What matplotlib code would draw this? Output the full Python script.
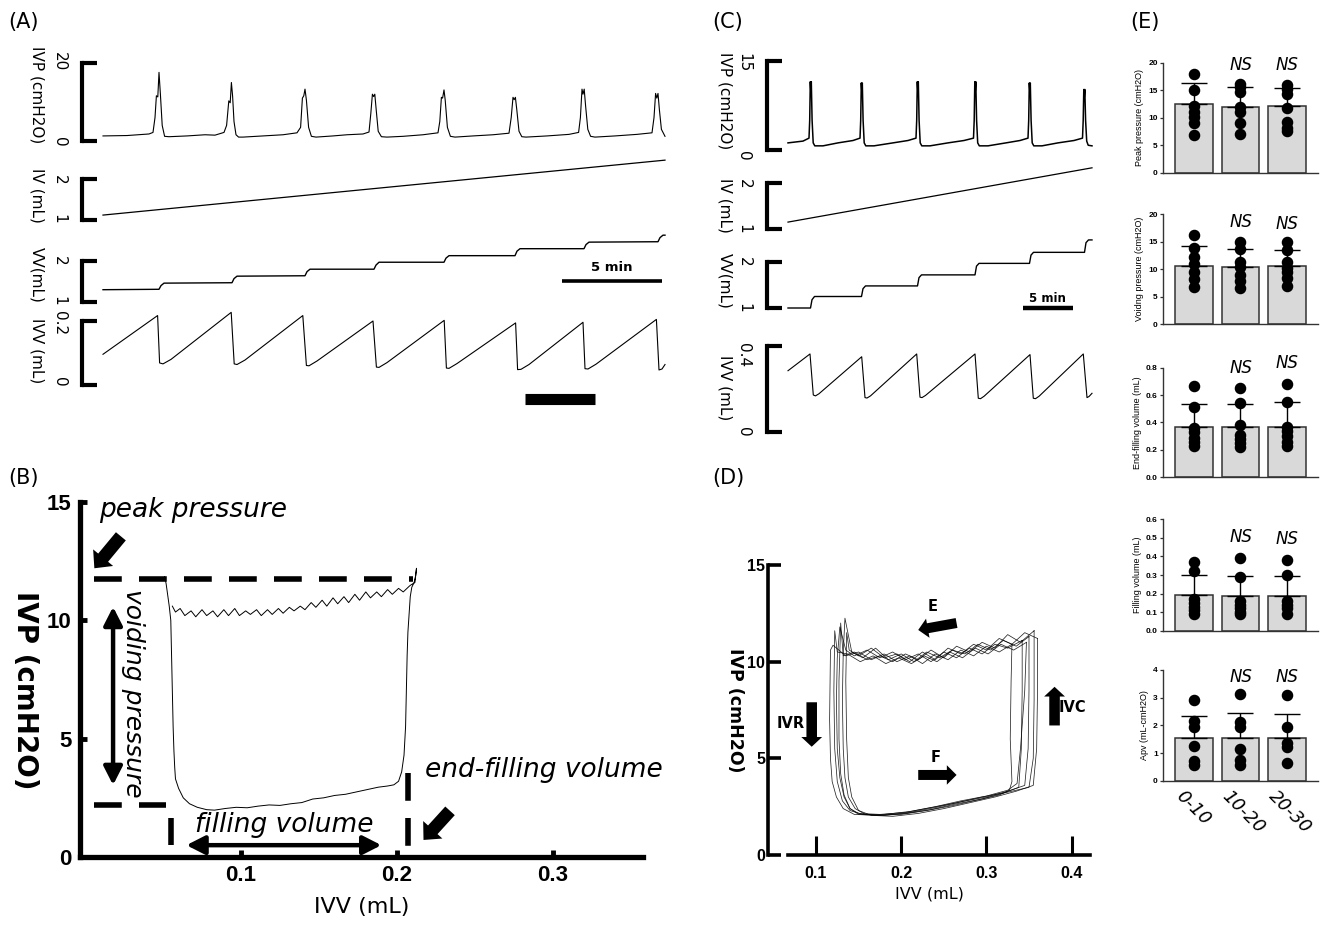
import matplotlib
matplotlib.use('Agg')
import matplotlib.pyplot as plt

plt.rcParams['font.family'] = ['DejaVu Sans']

W, H = 1320, 925
fig = plt.figure(figsize=(W / 100, H / 100), dpi=100)


def box(x0, y0, x1, y1):
    return [x0 / W, 1 - y1 / H, (x1 - x0) / W, (y1 - y0) / H]


def ftext(x, y, s, **kw):
    fig.text(x / W, 1 - y / H, s, **kw)


NARROW = ['Liberation Sans Narrow', 'Liberation Sans', 'DejaVu Sans']
ARIAL = ['Liberation Sans', 'DejaVu Sans']

# ---------------------------------------------------------------- data (A)
A_IVP_T = [0.00, 1.20, 2.30, 2.50, 2.60, 2.67, 2.74, 2.80, 2.87, 2.96, 3.08, 3.30,
           4.20, 5.10, 5.60, 6.05, 6.18, 6.29, 6.36, 6.42, 6.48, 6.55, 6.65, 6.78,
           7.00, 8.00, 9.00, 9.70, 9.88, 9.97, 10.04, 10.10, 10.17, 10.28, 10.42, 10.65,
           11.50, 12.20, 13.00, 13.30, 13.39, 13.47, 13.53, 13.59, 13.66, 13.76, 13.92, 14.20,
           15.00, 16.00, 16.75, 16.84, 16.92, 16.98, 17.05, 17.11, 17.22, 17.37, 17.60,
           18.50, 19.50, 20.30, 20.41, 20.50, 20.56, 20.62, 20.69, 20.80, 20.94, 21.15,
           22.20, 23.30, 23.78, 23.87, 23.95, 24.00, 24.06, 24.13, 24.24, 24.38, 24.60,
           25.60, 26.70, 27.45, 27.55, 27.63, 27.69, 27.75, 27.82, 27.92, 28.10]
A_IVP_V = [1.3, 1.4, 1.8, 2.2, 6.0, 11.6, 11.3, 17.6, 12.0, 4.0, 1.2, 1.1,
           1.3, 1.6, 1.5, 2.2, 4.0, 10.3, 9.8, 15.0, 11.5, 5.0, 1.6, 1.0,
           1.0, 1.3, 1.6, 2.1, 3.5, 11.0, 11.6, 13.3, 10.5, 3.5, 1.2, 1.0,
           1.3, 1.6, 1.8, 2.3, 7.0, 12.0, 11.4, 12.0, 8.0, 2.5, 1.1, 1.0,
           1.2, 1.6, 2.1, 5.0, 11.2, 11.0, 13.1, 10.5, 3.5, 1.2, 1.0,
           1.3, 1.6, 2.0, 6.0, 11.2, 10.6, 11.2, 8.0, 2.5, 1.1, 1.0,
           1.3, 1.7, 2.2, 6.0, 13.3, 12.0, 13.3, 9.0, 3.0, 1.2, 1.0,
           1.3, 1.7, 2.1, 6.0, 12.2, 11.0, 12.2, 8.0, 3.0, 1.2]
A_IV_T = [0.0, 28.1]
A_IV_V = [1.12, 2.46]
A_VV_T = [0.0, 2.80, 2.90, 3.05, 6.45, 6.55, 6.70, 10.10, 10.20, 10.35, 13.55, 13.65, 13.80,
          17.05, 17.15, 17.30, 20.60, 20.70, 20.85, 24.05, 24.15, 24.30, 27.75, 27.85, 28.00, 28.10]
A_VV_V = [1.30, 1.31, 1.40, 1.46, 1.47, 1.57, 1.63, 1.64, 1.74, 1.80, 1.80, 1.90, 1.97,
          1.97, 2.07, 2.13, 2.13, 2.24, 2.30, 2.30, 2.40, 2.46, 2.47, 2.57, 2.63, 2.63]
A_IVV_T = [0.0, 2.73, 2.83, 3.0, 3.4, 6.41, 6.56, 6.7, 7.1, 9.99, 10.17, 10.3, 10.7,
           13.5, 13.67, 13.8, 14.2, 17.06, 17.17, 17.3, 17.7, 20.63, 20.73, 20.9, 21.3,
           24.0, 24.1, 24.25, 24.65, 27.67, 27.8, 27.95, 28.1]
A_IVV_V = [0.096, 0.217, 0.069, 0.066, 0.080, 0.227, 0.066, 0.064, 0.078, 0.217, 0.061, 0.060, 0.075,
           0.200, 0.056, 0.055, 0.070, 0.202, 0.053, 0.052, 0.067, 0.194, 0.048, 0.049, 0.064,
           0.196, 0.051, 0.050, 0.065, 0.205, 0.047, 0.050, 0.064]

# ---------------------------------------------------------------- data (C)
C_IVP_T = [0.0, 1.5, 2.10, 2.17, 2.23, 2.28, 2.33, 2.41, 2.52, 2.68,
           3.5, 5.0, 6.5, 7.20, 7.27, 7.33, 7.38, 7.43, 7.51, 7.62, 7.78,
           8.6, 10.5, 12.0, 12.80, 12.87, 12.93, 12.98, 13.03, 13.11, 13.22, 13.38,
           14.2, 16.0, 17.6, 18.55, 18.62, 18.68, 18.73, 18.78, 18.86, 18.97, 19.13,
           20.0, 21.8, 23.2, 24.00, 24.07, 24.13, 24.18, 24.23, 24.31, 24.42, 24.58,
           25.4, 27.0, 28.6, 29.45, 29.52, 29.58, 29.63, 29.68, 29.76, 29.87, 30.02, 30.4]
C_IVP_V = [1.2, 1.5, 2.0, 5.0, 11.5, 10.0, 11.5, 5.0, 1.2, 0.7,
           0.7, 1.2, 1.6, 2.0, 5.0, 11.3, 10.0, 11.3, 5.0, 1.2, 0.7,
           0.7, 1.2, 1.6, 2.0, 5.0, 11.5, 10.0, 11.5, 5.0, 1.2, 0.7,
           0.7, 1.2, 1.6, 2.0, 5.0, 11.5, 10.0, 11.5, 5.0, 1.2, 0.7,
           0.7, 1.2, 1.6, 2.0, 5.0, 11.3, 10.0, 11.3, 5.0, 1.2, 0.7,
           0.7, 1.2, 1.6, 2.0, 5.0, 10.2, 9.0, 10.2, 5.0, 1.5, 0.8, 0.7]
C_IV_T = [0.0, 30.4]
C_IV_V = [1.15, 2.33]
C_VV_T = [0.0, 2.25, 2.40, 2.65, 7.35, 7.50, 7.75, 12.95, 13.10, 13.35, 18.70, 18.85, 19.10,
          24.15, 24.30, 24.55, 29.65, 29.80, 30.05, 30.4]
C_VV_V = [1.00, 1.00, 1.18, 1.25, 1.25, 1.42, 1.48, 1.48, 1.66, 1.72, 1.72, 1.91, 1.97,
          1.97, 2.15, 2.21, 2.21, 2.42, 2.48, 2.48]
C_IVV_T = [0.0, 2.2, 2.53, 2.75, 3.1, 7.37, 7.7, 7.9, 8.25, 12.87, 13.2, 13.4, 13.75,
           18.7, 19.03, 19.25, 19.6, 24.2, 24.53, 24.75, 25.1, 29.53, 29.9, 30.1, 30.4]
C_IVV_V = [0.285, 0.363, 0.172, 0.168, 0.178, 0.350, 0.160, 0.158, 0.168, 0.363, 0.162, 0.160, 0.170,
           0.363, 0.157, 0.155, 0.166, 0.360, 0.157, 0.155, 0.166, 0.363, 0.160, 0.165, 0.180]

# ---------------------------------------------------------------- data (B)
B_LOOP_X = [0.051, 0.052, 0.054, 0.055, 0.0555, 0.056, 0.0565, 0.057, 0.0575, 0.058, 0.060, 0.063,
            0.067, 0.072, 0.078, 0.083,
            0.090, 0.097, 0.104, 0.111, 0.118, 0.125, 0.132, 0.139, 0.146, 0.153, 0.160, 0.167,
            0.174, 0.181, 0.188, 0.194, 0.198,
            0.201, 0.203, 0.2045, 0.2055, 0.206, 0.2065, 0.207, 0.2075, 0.208, 0.2085, 0.2095,
            0.211, 0.212, 0.2125, 0.2115, 0.209,
            0.208, 0.204, 0.201, 0.197, 0.194, 0.190, 0.187, 0.183, 0.180, 0.176, 0.173, 0.169,
            0.166, 0.162, 0.159, 0.155, 0.152, 0.148, 0.145, 0.141, 0.138, 0.134, 0.131, 0.127,
            0.124, 0.120, 0.117, 0.113, 0.110, 0.106, 0.103, 0.099, 0.096, 0.092, 0.089, 0.085,
            0.082, 0.078, 0.075, 0.071, 0.068, 0.064, 0.061, 0.058, 0.056]
B_LOOP_Y = [11.85, 11.55, 10.6, 10.0, 8.5, 7.0, 5.5, 4.5, 3.8, 3.3, 2.9, 2.5,
            2.25, 2.1, 2.0, 1.98,
            2.05, 2.1, 2.08, 2.15, 2.2, 2.18, 2.25, 2.3, 2.45, 2.5, 2.6, 2.65,
            2.75, 2.85, 2.95, 3.0, 3.05,
            3.2, 3.6, 4.3, 5.5, 7.0, 8.5, 9.5, 10.0, 10.5, 11.0, 11.4,
            11.6, 11.9, 12.2, 11.6, 11.5,
            11.45, 11.2, 11.35, 11.1, 11.3, 11.0, 11.2, 10.95, 11.2, 10.85, 11.1, 10.75,
            11.0, 10.7, 10.95, 10.6, 10.85, 10.55, 10.75, 10.45, 10.6, 10.4, 10.55, 10.3,
            10.5, 10.25, 10.45, 10.2, 10.45, 10.25, 10.4, 10.2, 10.5, 10.2, 10.45, 10.15,
            10.4, 10.2, 10.45, 10.15, 10.4, 10.2, 10.5, 10.35, 10.6]
B_XTICKS = [0.1, 0.2, 0.3]
B_YTICKS = [0, 5, 10, 15]
B_PEAK = 11.74
B_VOID = 2.2
B_START_VOL = 0.055
B_END_VOL = 0.207

# ---------------------------------------------------------------- data (D)
D_LOOPS_X = [
    [0.330, 0.315, 0.300, 0.285, 0.270, 0.255, 0.240, 0.225, 0.210, 0.195, 0.180, 0.165, 0.150, 0.135,
     0.120, 0.117, 0.116, 0.117, 0.119, 0.124, 0.132, 0.145, 0.170, 0.200, 0.230, 0.260, 0.290, 0.315,
     0.327, 0.330, 0.328, 0.329, 0.330],
    [0.342, 0.325, 0.310, 0.295, 0.280, 0.265, 0.250, 0.235, 0.220, 0.205, 0.190, 0.175, 0.160, 0.145,
     0.135, 0.128, 0.125, 0.124, 0.125, 0.128, 0.133, 0.140, 0.150, 0.175, 0.205, 0.235, 0.265, 0.295,
     0.320, 0.338, 0.341, 0.342, 0.342],
    [0.350, 0.335, 0.320, 0.305, 0.290, 0.275, 0.260, 0.245, 0.230, 0.215, 0.200, 0.185, 0.170, 0.155,
     0.142, 0.134, 0.132, 0.131, 0.132, 0.134, 0.138, 0.146, 0.158, 0.180, 0.210, 0.240, 0.270, 0.300,
     0.325, 0.345, 0.349, 0.350, 0.350],
    [0.356, 0.340, 0.325, 0.310, 0.295, 0.280, 0.265, 0.250, 0.235, 0.220, 0.205, 0.190, 0.175, 0.160,
     0.145, 0.132, 0.129, 0.127, 0.127, 0.129, 0.133, 0.140, 0.150, 0.175, 0.205, 0.235, 0.265, 0.295,
     0.325, 0.350, 0.355, 0.356, 0.356],
    [0.360, 0.345, 0.330, 0.315, 0.300, 0.285, 0.270, 0.255, 0.240, 0.225, 0.210, 0.195, 0.180, 0.165,
     0.150, 0.139, 0.136, 0.135, 0.136, 0.138, 0.142, 0.150, 0.165, 0.190, 0.220, 0.250, 0.280, 0.310,
     0.335, 0.355, 0.359, 0.360, 0.360],
    [0.347, 0.332, 0.317, 0.302, 0.287, 0.272, 0.257, 0.242, 0.227, 0.212, 0.197, 0.182, 0.167, 0.152,
     0.137, 0.125, 0.122, 0.121, 0.122, 0.125, 0.131, 0.140, 0.155, 0.180, 0.210, 0.240, 0.270, 0.300,
     0.325, 0.336, 0.340, 0.345, 0.347],
]
D_LOOPS_Y = [
    [10.9, 10.5, 10.8, 10.3, 10.6, 10.1, 10.4, 9.9, 10.3, 10.0, 10.4, 10.1, 10.5, 10.3,
     10.85, 10.6, 7.0, 5.0, 3.8, 3.0, 2.4, 2.1, 2.05, 2.1, 2.3, 2.55, 2.85, 3.1,
     3.35, 3.8, 6.0, 9.0, 10.9],
    [11.1, 10.7, 10.9, 10.4, 10.7, 10.2, 10.5, 10.0, 10.4, 10.1, 10.5, 10.2, 10.6, 10.3,
     10.6, 11.8, 10.2, 8.0, 5.5, 4.0, 3.0, 2.4, 2.1, 2.05, 2.15, 2.35, 2.65, 2.9,
     3.2, 3.5, 5.5, 8.5, 11.1],
    [11.3, 10.8, 11.1, 10.6, 10.9, 10.4, 10.6, 10.2, 10.5, 10.0, 10.4, 10.1, 10.7, 10.2,
     10.5, 12.25, 10.5, 8.0, 5.5, 4.0, 3.0, 2.4, 2.1, 2.05, 2.2, 2.45, 2.75, 3.0,
     3.3, 3.6, 5.5, 8.5, 11.3],
    [11.6, 11.0, 11.4, 10.7, 11.0, 10.5, 10.8, 10.2, 10.6, 10.1, 10.4, 10.0, 10.3, 10.1,
     10.5, 10.3, 12.0, 9.0, 6.0, 4.2, 3.1, 2.4, 2.15, 2.1, 2.2, 2.45, 2.7, 3.0,
     3.25, 3.5, 5.0, 8.0, 11.6],
    [11.2, 11.5, 10.9, 11.2, 10.6, 10.9, 10.4, 10.7, 10.1, 10.5, 10.0, 10.4, 10.2, 10.7,
     10.3, 10.6, 11.5, 9.0, 6.0, 4.0, 3.0, 2.3, 2.05, 2.0, 2.15, 2.4, 2.7, 3.0,
     3.3, 3.6, 5.5, 8.5, 11.2],
    [11.0, 10.6, 10.9, 10.4, 10.7, 10.2, 10.5, 10.0, 10.3, 9.9, 10.2, 9.9, 10.3, 10.0,
     10.4, 10.5, 11.6, 8.5, 5.5, 3.8, 2.8, 2.3, 2.1, 2.1, 2.25, 2.5, 2.8, 3.05,
     3.35, 3.7, 5.5, 8.5, 11.0],
]
D_XTICKS = [0.1, 0.2, 0.3, 0.4]
D_YTICKS = [0, 5, 10, 15]

# ---------------------------------------------------------------- data (E)
E_GROUPS = ['0-10', '10-20', '20-30']
PEAK_MEAN = [12.42, 12.0, 12.18]
PEAK_SD = [3.88, 3.5, 3.15]
PEAK_PTS = [[18.0, 15.1, 12.2, 11.1, 10.2, 9.0, 6.8],
            [16.2, 15.5, 14.7, 12.0, 11.1, 9.1, 7.1],
            [15.9, 15.3, 14.4, 11.7, 9.3, 8.1, 7.5]]
VOID_MEAN = [10.67, 10.48, 10.67]
VOID_SD = [3.57, 3.16, 2.83]
VOID_PTS = [[16.2, 13.8, 12.3, 10.9, 9.5, 8.3, 6.7],
            [14.9, 13.7, 11.4, 10.4, 9.0, 7.9, 6.6],
            [14.9, 13.5, 11.4, 10.2, 9.6, 8.4, 7.0]]
EFV_MEAN = [0.37, 0.37, 0.37]
EFV_SD = [0.165, 0.168, 0.18]
EFV_PTS = [[0.67, 0.51, 0.36, 0.33, 0.29, 0.26, 0.23],
           [0.65, 0.54, 0.38, 0.31, 0.28, 0.25, 0.22],
           [0.68, 0.55, 0.37, 0.34, 0.30, 0.26, 0.23]]
FV_MEAN = [0.192, 0.187, 0.187]
FV_SD = [0.108, 0.109, 0.108]
FV_PTS = [[0.37, 0.32, 0.17, 0.15, 0.13, 0.11, 0.09],
          [0.39, 0.29, 0.16, 0.14, 0.12, 0.10, 0.09],
          [0.38, 0.30, 0.16, 0.14, 0.12, 0.09]]
APV_MEAN = [1.53, 1.53, 1.55]
APV_SD = [0.82, 0.90, 0.85]
APV_PTS = [[2.92, 2.15, 1.95, 1.25, 0.70, 0.55],
           [3.12, 2.13, 1.95, 1.13, 0.75, 0.57],
           [3.10, 1.93, 1.35, 1.23, 0.65]]

# ================================================================ helpers


def trace_axes(x0, x1, y0, y1, xlim, ylim):
    ax = fig.add_axes(box(x0, y0, x1, y1))
    ax.set_xlim(*xlim)
    ax.set_ylim(*ylim)
    ax.patch.set_visible(False)
    for s in ('top', 'right', 'bottom'):
        ax.spines[s].set_visible(False)
    ax.spines['left'].set_linewidth(3)
    ax.set_xticks([])
    ax.set_yticks(list(ylim))
    ax.tick_params(axis='y', direction='in', length=11, width=3, labelleft=False)
    return ax


def block_arrow(ax, tail, head, ms=20, hl=0.42, hw=0.75, tw=0.38):
    ax.annotate('', xy=head, xytext=tail, xycoords='data', textcoords='data',
                annotation_clip=False,
                arrowprops=dict(arrowstyle='simple,head_length=%g,head_width=%g,tail_width=%g' % (hl, hw, tw),
                                fc='k', ec='k', lw=0, mutation_scale=ms, shrinkA=0, shrinkB=0))


def double_arrow(ax, p0, p1):
    ax.annotate('', xy=p1, xytext=p0, xycoords='data', textcoords='data',
                annotation_clip=False,
                arrowprops=dict(arrowstyle='<|-|>,head_length=0.55,head_width=0.28',
                                fc='k', ec='k', lw=3.2, mutation_scale=20, shrinkA=0, shrinkB=0))


# ================================================================ panel A
A_XLIM = (-1.05, 28.1)
a_ivp = trace_axes(82, 665, 63, 141, A_XLIM, (0, 20))
a_iv = trace_axes(82, 665, 179, 220, A_XLIM, (1, 2))
a_vv = trace_axes(82, 665, 261, 302, A_XLIM, (1, 2))
a_ivv = trace_axes(82, 665, 321, 385, A_XLIM, (0, 0.2))
a_ivp.plot(A_IVP_T, A_IVP_V, color='k', lw=0.8, clip_on=False)
a_iv.plot(A_IV_T, A_IV_V, color='k', lw=0.9, clip_on=False)
a_vv.plot(A_VV_T, A_VV_V, color='k', lw=1.0, clip_on=False)
a_ivv.plot(A_IVV_T, A_IVV_V, color='k', lw=0.8, clip_on=False)
a_vv.plot([22.95, 27.95], [1.51, 1.51], color='k', lw=2.6, solid_capstyle='butt', clip_on=False)
a_ivv.plot([21.1, 24.6], [-0.0425, -0.0425], color='k', lw=8, solid_capstyle='butt', clip_on=False)
ftext(612, 268, '5 min', fontsize=9.5, fontweight='bold', ha='center', va='center')

for lab, yc in [('IVP (cmH2O)', 95), ('IV (mL)', 195), ('VV(mL)', 275), ('IVV (mL)', 351)]:
    ftext(37, yc, lab, rotation=-90, ha='center', va='center', fontsize=11)
for lab, yc in [('20', 62), ('0', 142), ('2', 180), ('1', 219), ('2', 261), ('1', 301),
                ('0.2', 323), ('0', 382)]:
    ftext(59, yc, lab, rotation=-90, ha='center', va='center', fontsize=11)

# ================================================================ panel C
C_XLIM = (-2.1, 30.4)
c_ivp = trace_axes(767, 1092, 61, 150, C_XLIM, (0, 15))
c_iv = trace_axes(767, 1092, 183, 229, C_XLIM, (1, 2))
c_vv = trace_axes(767, 1092, 262, 308, C_XLIM, (1, 2))
c_ivv = trace_axes(767, 1092, 346, 432, C_XLIM, (0, 0.4))
c_ivp.plot(C_IVP_T, C_IVP_V, color='k', lw=1.1, clip_on=False)
c_iv.plot(C_IV_T, C_IV_V, color='k', lw=0.9, clip_on=False)
c_vv.plot(C_VV_T, C_VV_V, color='k', lw=1.0, clip_on=False)
c_ivv.plot(C_IVV_T, C_IVV_V, color='k', lw=0.8, clip_on=False)
c_vv.plot([23.47, 28.47], [1.0, 1.0], color='k', lw=3.2, solid_capstyle='butt', clip_on=False)
ftext(1047, 298, '5 min', fontsize=8.5, fontweight='bold', ha='center', va='center')

for lab, yc in [('IVP (cmH2O)', 101), ('IV (mL)', 205), ('VV(mL)', 281), ('IVV (mL)', 388)]:
    ftext(725, yc, lab, rotation=-90, ha='center', va='center', fontsize=11)
for lab, yc in [('15', 63), ('0', 156), ('2', 184), ('1', 229), ('2', 262), ('1', 308),
                ('0.4', 355), ('0', 432)]:
    ftext(744, yc, lab, rotation=-90, ha='center', va='center', fontsize=11)

# ================================================================ panel B
axB = fig.add_axes(box(80, 502, 643, 857))
axB.set_xlim(-0.0032, 0.3577)
axB.set_ylim(0, 15)
axB.patch.set_visible(False)
for s in ('top', 'right'):
    axB.spines[s].set_visible(False)
for s in ('left', 'bottom'):
    axB.spines[s].set_linewidth(3.8)
axB.set_xticks(B_XTICKS)
axB.set_yticks(B_YTICKS)
axB.set_xticklabels(['%g' % v for v in B_XTICKS], fontsize=16, fontweight='bold', family=NARROW)
axB.set_yticklabels(['%g' % v for v in B_YTICKS], fontsize=16, fontweight='bold', family=NARROW)
axB.tick_params(direction='in', length=5, width=3.5)
axB.tick_params(axis='y', pad=6)
axB.tick_params(axis='x', pad=6)
axB.set_xlabel('IVV (mL)', fontsize=16, labelpad=8)
axB.set_ylabel('IVP (cmH2O)', fontsize=20, fontweight='bold', rotation=270, labelpad=22, va='center')
axB.yaxis.set_label_coords(-0.098, 0.47)

axB.plot(B_LOOP_X, B_LOOP_Y, color='k', lw=0.7)
dash_kw = dict(color='k', lw=4, dashes=(5, 3.1), dash_capstyle='butt', clip_on=False)
axB.plot([0.006, 0.21], [B_PEAK, B_PEAK], **dash_kw)
axB.plot([0.006, 0.052], [B_VOID, B_VOID], **dash_kw)
axB.plot([B_START_VOL, B_START_VOL], [1.65, 0.5], **dash_kw)
axB.plot([B_END_VOL, B_END_VOL], [3.55, 0.38], **dash_kw)
double_arrow(axB, (0.018, 10.57), (0.018, 3.04))
double_arrow(axB, (0.065, 0.5), (0.19, 0.5))
block_arrow(axB, (0.023, 13.55), (0.006, 12.2), ms=22, hl=0.45, hw=0.85, tw=0.42)
block_arrow(axB, (0.234, 1.95), (0.217, 0.72), ms=22, hl=0.45, hw=0.85, tw=0.42)
it_kw = dict(fontsize=19, style='italic', color='k')
axB.text(0.009, 14.66, 'peak pressure', ha='left', va='center', **it_kw)
axB.text(0.0305, 6.9, 'voiding pressure', ha='center', va='center', rotation=270, fontsize=18,
         style='italic')
axB.text(0.128, 1.35, 'filling volume', ha='center', va='center', **it_kw)
axB.text(0.218, 3.68, 'end-filling volume', ha='left', va='center', clip_on=False, **it_kw)

# ================================================================ panel D
axD = fig.add_axes(box(768, 565, 1090, 855))
axD.set_xlim(0.0437, 0.4216)
axD.set_ylim(0, 15)
axD.patch.set_visible(False)
for s in ('top', 'right'):
    axD.spines[s].set_visible(False)
for s in ('left', 'bottom'):
    axD.spines[s].set_linewidth(2.6)
axD.spines['bottom'].set_bounds(0.0671, 0.4216)
axD.set_xticks(D_XTICKS)
axD.set_yticks(D_YTICKS)
axD.set_xticklabels(['%g' % v for v in D_XTICKS], fontsize=11.5, fontweight='bold', family=NARROW)
axD.set_yticklabels(['%g' % v for v in D_YTICKS], fontsize=11.5, fontweight='bold', family=NARROW)
axD.tick_params(axis='y', direction='in', length=9, width=2.6, pad=2)
axD.tick_params(axis='x', direction='in', length=14, width=2.2, pad=8)
axD.set_xlabel('IVV (mL)', fontsize=11.5, labelpad=4)
axD.set_ylabel('IVP (cmH2O)', fontsize=12.5, fontweight='bold', rotation=270, va='center')
axD.yaxis.set_label_coords(-0.102, 0.5)
for lx, ly in zip(D_LOOPS_X, D_LOOPS_Y):
    axD.plot(lx, ly, color='k', lw=0.55, alpha=0.85)
block_arrow(axD, (0.265, 12.0), (0.22, 11.64), ms=20, hl=0.35, hw=0.7, tw=0.36)
block_arrow(axD, (0.22, 4.14), (0.265, 4.14), ms=20, hl=0.35, hw=0.7, tw=0.36)
block_arrow(axD, (0.095, 7.9), (0.095, 5.6), ms=20, hl=0.35, hw=0.75, tw=0.38)
block_arrow(axD, (0.38, 6.7), (0.38, 8.7), ms=20, hl=0.35, hw=0.75, tw=0.38)
bk = dict(fontsize=10.5, fontweight='bold', ha='center', va='center')
axD.text(0.237, 12.85, 'E', **bk)
axD.text(0.240, 5.05, 'F', **bk)
axD.text(0.070, 6.8, 'IVR', **bk)
axD.text(0.401, 7.65, 'IVC', **bk)

# ================================================================ panel E
E_PANELS = [
    ('Peak pressure (cmH2O)', PEAK_MEAN, PEAK_SD, PEAK_PTS, (0, 20), [0, 5, 10, 15, 20], '%d', [19.5, 19.5]),
    ('Voidng pressure (cmH2O)', VOID_MEAN, VOID_SD, VOID_PTS, (0, 20), [0, 5, 10, 15, 20], '%d', [18.6, 18.2]),
    ('End-filling volume (mL)', EFV_MEAN, EFV_SD, EFV_PTS, (0, 0.8), [0, 0.2, 0.4, 0.6, 0.8], '%.1f', [0.795, 0.836]),
    ('Filling volume (mL)', FV_MEAN, FV_SD, FV_PTS, (0, 0.6), [0, 0.1, 0.2, 0.3, 0.4, 0.5, 0.6], '%.1f', [0.506, 0.493]),
    ('Apv (mL-cmH2O)', APV_MEAN, APV_SD, APV_PTS, (0, 4), [0, 1, 2, 3, 4], '%d', [3.76, 3.76]),
]
E_BOXES = [(62.7, 172.7), (214.3, 324.3), (367.7, 477.3), (519.3, 630.7), (670.0, 780.7)]
xpos = list(range(len(E_GROUPS)))
for (lab, means, sds, pts, ylim, yt, fmt, nsy), (yt0, yb0) in zip(E_PANELS, E_BOXES):
    ax = fig.add_axes(box(1163.3, yt0, 1318, yb0))
    ax.set_xlim(-0.653, 2.66)
    ax.set_ylim(*ylim)
    ax.patch.set_visible(False)
    for s in ('top', 'right'):
        ax.spines[s].set_visible(False)
    for s in ('left', 'bottom'):
        ax.spines[s].set_linewidth(1.0)
        ax.spines[s].set_color('#333333')
    ax.bar(xpos, means, width=0.807, color='#d9d9d9', edgecolor='#333333', linewidth=1.1, zorder=2)
    ax.errorbar(xpos, means, yerr=[[0] * len(sds), sds], fmt='none', ecolor='k', elinewidth=1.0,
                capsize=9.5, capthick=1.0, zorder=3)
    for i, grp in enumerate(pts):
        ax.plot([xpos[i]] * len(grp), grp, 'o', color='k', ms=7.3, zorder=4, clip_on=False)
    ax.set_xticks([])
    ax.set_yticks(yt)
    ax.set_yticklabels([fmt % v for v in yt], fontsize=6, fontweight='bold', family=ARIAL)
    ax.tick_params(axis='y', direction='out', length=2.5, width=0.9, pad=1.5, color='#333333')
    ax.set_ylabel(lab, fontsize=6.5, family=ARIAL, labelpad=3)
    for i, y in zip(xpos[1:], nsy):
        ax.text(i, y, 'NS', style='italic', fontsize=12, ha='center', va='center')
    if lab.startswith('Apv'):
        for i, g in zip(xpos, E_GROUPS):
            ax.text(i - 0.33, -0.45, g, rotation=-45, rotation_mode='anchor', ha='left', va='center',
                    style='italic', fontsize=13)

# ================================================================ panel letters
for lab, x, y in [('(A)', 8, 22), ('(B)', 8, 478), ('(C)', 712, 22), ('(D)', 712, 478), ('(E)', 1130, 22)]:
    ftext(x, y, lab, fontsize=15, ha='left', va='center')

fig.savefig('out.png', dpi=100)
